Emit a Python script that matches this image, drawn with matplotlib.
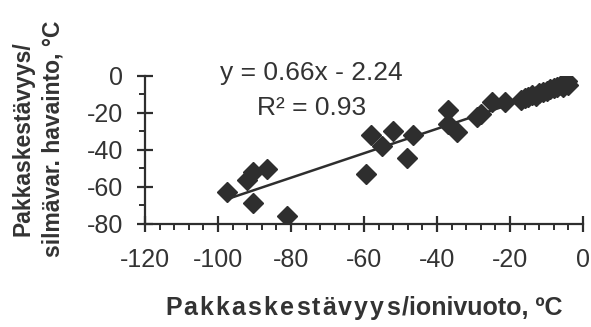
import matplotlib
matplotlib.use("Agg")
import matplotlib.pyplot as plt
import numpy as np
from matplotlib.ticker import MultipleLocator

plt.rcParams['font.family'] = ['Liberation Sans', 'DejaVu Sans']
plt.rcParams['axes.unicode_minus'] = False

# Frost resistance: ion leakage test (x) vs visual inspection (y), °C
ion_leakage = [-97.6, -90.3, -92.0, -90.5, -86.5, -81.0,
               -59.5, -58.2, -55.0, -52.0, -48.2, -46.7,
               -36.9, -36.9, -34.6, -29.0, -28.0, -25.0, -21.4,
               -17.0, -16.0, -15.0, -14.0, -13.0, -12.0, -11.0, -10.0,
               -9.0, -8.0, -7.0, -6.0, -5.5, -5.0, -4.5, -4.0]
visual_obs = [-63.0, -68.5, -56.0, -52.0, -50.5, -75.7,
              -53.0, -32.0, -38.0, -30.0, -44.6, -32.0,
              -18.6, -25.9, -30.4, -22.3, -20.4, -14.1, -14.1,
              -13.0, -12.0, -11.5, -10.5, -11.0, -9.5, -9.0, -8.0,
              -7.0, -6.5, -6.0, -5.0, -6.0, -4.0, -3.0, -5.0]

slope, intercept, r2 = 0.66, -2.24, 0.93

x_ticks = [-120, -100, -80, -60, -40, -20, 0]
y_ticks = [0, -20, -40, -60, -80]

ink = '#2e2e2e'
text_col = '#333333'

W, H = 591, 327
fig = plt.figure(figsize=(W / 100, H / 100), dpi=100)
ax = fig.add_axes([0.2453, 0.315, 0.9865 - 0.2453, 0.7685 - 0.315])

ax.plot(ion_leakage, visual_obs, linestyle='none', marker='D', ms=10.5,
        color=ink, mec=ink, mew=1.0, zorder=3)

xs = np.array([min(ion_leakage), max(ion_leakage)])
ax.plot(xs, slope * xs + intercept, color=ink, lw=1.8, zorder=2)

ax.set_xlim(-120, 0)
ax.set_ylim(-80, 0)
ax.set_xticks(x_ticks)
ax.set_yticks(y_ticks)
ax.xaxis.set_minor_locator(MultipleLocator(4))
ax.yaxis.set_minor_locator(MultipleLocator(10))

for s in ('top', 'right'):
    ax.spines[s].set_visible(False)
for s in ('left', 'bottom'):
    ax.spines[s].set_color(ink)
    ax.spines[s].set_linewidth(1.6)

ax.tick_params(axis='both', which='major', direction='inout', length=11,
               width=1.6, color=ink, labelsize=18, labelcolor=text_col)
ax.tick_params(axis='both', which='minor', direction='out', length=4.5,
               width=1.4, color=ink)
ax.tick_params(axis='x', which='major', pad=12)
ax.tick_params(axis='y', which='major', pad=10)

ax.text(-74.3, 1.5, f'y = {slope:.2f}x - {abs(intercept):.2f}', ha='center',
        va='center', fontsize=19, color=text_col, clip_on=False)
ax.text(-74.3, -17.4, f'R² = {r2:.2f}', ha='center', va='center',
        fontsize=19, color=text_col, clip_on=False)

# x-axis title, first word set with extra letter spacing
renderer = fig.canvas.get_renderer()
xlab_kw = dict(fontsize=18, fontweight='bold', color=text_col,
               va='center', ha='left')
word, rest = 'Pakkaskestävyys', '/ionivuoto, ºC'
track = 2.1
y_lab = 1 - 308 / H
x0 = 165.0


def text_width(s):
    t = fig.text(0, 0, s, **xlab_kw)
    w = t.get_window_extent(renderer).width
    t.remove()
    return w


for i, ch in enumerate(word):
    off = text_width(word[:i]) if i else 0.0
    fig.text((x0 + off + i * track) / W, y_lab, ch, **xlab_kw)
x_rest = x0 + text_width(word) + (len(word) - 1) * track + 2.5
fig.text(x_rest / W, y_lab, rest, **xlab_kw)

fig.text(38 / W, 1 - 139 / H, 'Pakkaskestävyys/\nsilmävar. havainto, °C',
         ha='center', va='center', rotation=90, fontsize=16.5,
         fontweight='bold', color=text_col, linespacing=1.35)

fig.savefig('out.png', dpi=100)
